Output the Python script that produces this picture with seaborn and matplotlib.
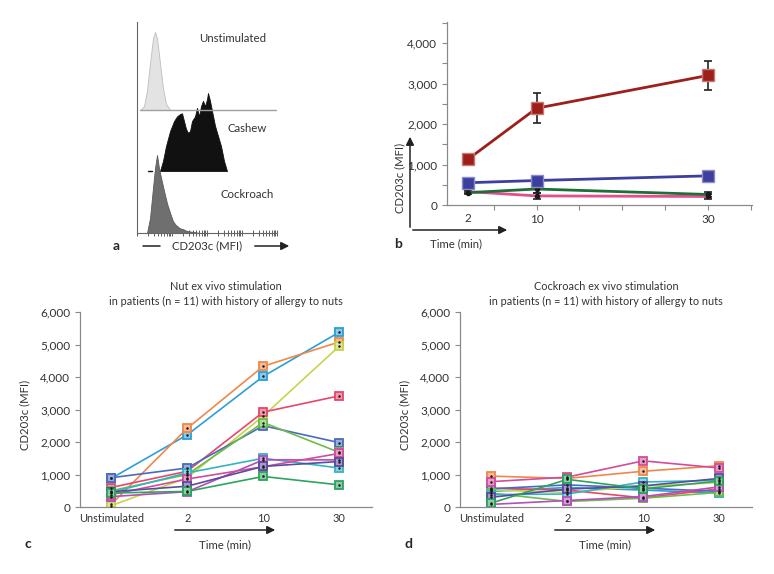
import numpy as np
import pandas as pd
import matplotlib
matplotlib.use("Agg")
import matplotlib.pyplot as plt
import matplotlib.colors as mcolors
from matplotlib.lines import Line2D
from matplotlib.ticker import FuncFormatter
import seaborn as sns

W, H = 774, 574

# ---- panel a: flow histograms (x = channel position, y = % of peak height)
unstim_x = [3, 7, 10, 13, 16, 18, 20, 23, 26, 29, 33]
unstim_y = [0, 5, 25, 60, 92, 100, 92, 60, 28, 8, 0]
cashew_x = [23, 26, 29, 33, 37, 40, 43, 45, 47, 49, 51, 53, 55, 58, 60, 62, 64, 66,
            68, 70, 71, 73, 75, 78, 81, 84, 87, 90]
cashew_y = [0, 13, 32, 51, 64, 70, 73, 74, 64, 54, 49, 51, 64, 70, 81, 70, 83, 90,
            83, 92, 100, 90, 77, 58, 45, 32, 13, 0]
cockroach_x = [10, 13, 16, 18, 20, 22, 24, 27, 30, 33, 36, 39, 43, 46, 49, 53, 58, 63]
cockroach_y = [0, 19, 58, 83, 100, 83, 71, 54, 38, 26, 15, 10, 6, 5, 3, 2, 1, 0]

# ---- panel b: mean CD203c over time
b_time = [2, 10, 30]
b_red = [1130, 2390, 3200]
b_red_err = [0, 370, 350]
b_blue = [550, 605, 720]
b_blue_err = [80, 70, 40]
b_green = [305, 395, 260]
b_green_err = [40, 110, 60]
b_pink = [330, 225, 210]
b_pink_err = [30, 80, 50]

# ---- panels c, d: individual patients
stages = ["Unstimulated", "2", "10", "30"]
patient_colors = ["#2b9fd6", "#f0874a", "#c9d24c", "#e6476a", "#4a6bbd", "#6dbb4c",
                  "#33b5c4", "#b24fb8", "#d34c9c", "#5a4aa0", "#2ea35e"]
nut_values = [
    [880, 2220, 4020, 5380],
    [80, 2420, 4330, 5080],
    [40, 900, 2800, 4950],
    [600, 1100, 2920, 3420],
    [900, 1200, 2500, 1980],
    [500, 1000, 2600, 1680],
    [450, 1050, 1500, 1200],
    [320, 470, 1450, 1450],
    [380, 860, 1240, 1650],
    [470, 640, 1250, 1400],
    [430, 480, 940, 680],
]
cockroach_values = [
    [480, 600, 520, 430],
    [950, 880, 1100, 1270],
    [520, 450, 640, 750],
    [580, 520, 280, 560],
    [560, 680, 580, 480],
    [430, 170, 270, 450],
    [380, 400, 770, 820],
    [80, 200, 320, 620],
    [780, 920, 1420, 1200],
    [300, 550, 650, 880],
    [120, 850, 560, 800],
]

sns.set_theme(style="ticks")
plt.rcParams["font.family"] = ["Lato", "DejaVu Sans"]
plt.rcParams["font.size"] = 8
TXT = "#333333"
AX = "#8a8a8a"
FS = 8.2

fig = plt.figure(figsize=(W / 100, H / 100), dpi=100)


def add_ax(left, top, right, bottom):
    return fig.add_axes([left / W, 1 - bottom / H, (right - left) / W, (bottom - top) / H])


def fxy(px, py):
    return (px / W, 1 - py / H)


def arrow(x0, y0, x1, y1):
    fig.add_artist(matplotlib.patches.FancyArrowPatch(
        fxy(x0, y0), fxy(x1, y1), transform=fig.transFigure,
        arrowstyle="-|>", mutation_scale=12, color="#222222", lw=1.1))


# ---------------- panel a
ax_a = add_ax(137, 22, 277, 233)
peak = 78
hists = [(unstim_x, unstim_y, 123, "#e3e3e3", "#bdbdbd"),
         (cashew_x, cashew_y, 62, "#111111", "#111111"),
         (cockroach_x, cockroach_y, 0, "#6f6f6f", "#5a5a5a")]
for xs, ys, base, face, edge in hists:
    top = base + np.array(ys) / 100 * peak
    ax_a.fill_between(xs, base, top, color=face, edgecolor=edge, lw=0.6)
ax_a.plot([3, 140], [123, 123], color="#a0a0a0", lw=1)
ax_a.plot([11, 15], [62, 62], color="#111111", lw=1)
ax_a.text(96, 195, "Unstimulated", ha="center", va="center", fontsize=FS, color=TXT)
ax_a.text(110, 105, "Cashew", ha="center", va="center", fontsize=FS, color=TXT)
ax_a.text(110, 39, "Cockroach", ha="center", va="center", fontsize=FS, color=TXT)
ax_a.set_xlim(0, 140)
ax_a.set_ylim(0, 211)
ticks = [d * 35 + np.log10(k) * 35 for d in range(4) for k in range(1, 10)] + [140]
ax_a.set_xticks(ticks)
ax_a.set_xticklabels([])
ax_a.set_yticks([])
ax_a.tick_params(axis="x", direction="inout", length=4, width=0.6, color="#444444")
sns.despine(ax=ax_a)
for s in ("left", "bottom"):
    ax_a.spines[s].set_color("#666666")
    ax_a.spines[s].set_linewidth(0.8)

fig.text(*fxy(116, 246), "a", fontsize=10, fontweight="bold", ha="center", va="center")
fig.add_artist(Line2D([143 / W, 160 / W], [1 - 246 / H] * 2, color="#222222", lw=1.1))
fig.text(*fxy(207, 246), "CD203c (MFI)", fontsize=FS, ha="center", va="center", color=TXT)
arrow(252, 246, 292, 246)

# ---------------- panel b
ax_b = add_ax(447, 22, 752, 205)
b_series = [(b_pink, b_pink_err, "#e24e8e", "o", 3, "k"),
            (b_green, b_green_err, "#1d6e37", "o", 3, "k"),
            (b_blue, b_blue_err, "#3c3f9f", "s", 9, None),
            (b_red, b_red_err, "#9e1f1a", "s", 8, None)]
for vals, errs, col, mk, ms, mfc in b_series:
    ax_b.errorbar(b_time, vals, yerr=errs, fmt="none", ecolor="#222222",
                  elinewidth=1.2, capsize=3, capthick=1.2, zorder=2)
    sns.lineplot(x=b_time, y=vals, color=col, lw=2, marker=mk, markersize=ms,
                 markerfacecolor=mfc if mfc else col,
                 markeredgecolor=mfc if mfc else mcolors.to_hex(
                     np.array(mcolors.to_rgb(col)) * 0.6 + 0.4),
                 markeredgewidth=1, ax=ax_b, zorder=3)
ax_b.set_xlim(-0.45, 35.13)
ax_b.set_ylim(0, 4520)
ax_b.set_xticks([5, 10, 15, 20, 25, 30, 35], ["", "10", "", "", "", "30", ""])
ax_b.set_xticks([2], ["2"], minor=True)
ax_b.tick_params(axis="x", which="minor", length=0, pad=6, labelsize=8.5, labelcolor=TXT)
ax_b.tick_params(axis="x", which="major", length=3.5, width=0.8, color=AX,
                 pad=3, labelsize=8.5, labelcolor=TXT)
ax_b.set_yticks([0, 1000, 2000, 3000, 4000], ["0", "1,000", "2,000", "3,000", "4,000"])
ax_b.set_yticks([500, 1500, 2500, 3500, 4500], minor=True)
ax_b.tick_params(axis="y", which="both", length=3.5, width=0.8, color=AX,
                 labelsize=8.5, labelcolor=TXT)
ax_b.set_xlabel("")
ax_b.set_ylabel("")
sns.despine(ax=ax_b)
for s in ("left", "bottom"):
    ax_b.spines[s].set_color(AX)
    ax_b.spines[s].set_linewidth(0.9)

arrow(410, 230, 410, 134)
arrow(410, 230, 510, 230)
fig.text(*fxy(400, 178), "CD203c (MFI)", rotation=90, fontsize=FS,
         ha="center", va="center", color=TXT)
fig.text(*fxy(456, 244), "Time (min)", fontsize=FS, ha="center", va="center", color=TXT)
fig.text(*fxy(398, 244), "b", fontsize=10, fontweight="bold", ha="center", va="center")


# ---------------- panels c, d
def lighten(c, amt=0.4):
    return tuple(np.array(mcolors.to_rgb(c)) * (1 - amt) + amt)


def patient_panel(left, values, title, letter):
    ax = add_ax(left, 312, left + 292, 507)
    df = pd.DataFrame([(f"P{i + 1}", st, v) for i, row in enumerate(values)
                       for st, v in zip(stages, row)], columns=["patient", "stage", "mfi"])
    sns.pointplot(data=df, x="stage", y="mfi", hue="patient", order=stages,
                  palette=patient_colors, markers="s", errorbar=None, dodge=False,
                  markersize=5.5, linewidth=1.2, legend=False, ax=ax)
    for ln in ax.lines:
        c = ln.get_color()
        ln.set_markerfacecolor(lighten(c, 0.45))
        ln.set_markeredgecolor(c)
        ln.set_markeredgewidth(1.3)
    sns.stripplot(data=df, x="stage", y="mfi", order=stages, color="k", size=1.8,
                  jitter=False, ax=ax, zorder=6)
    ax.set_xlim(-0.41, 3.43)
    ax.set_ylim(0, 6000)
    ax.set_yticks(range(0, 7000, 1000))
    ax.yaxis.set_major_formatter(FuncFormatter(lambda v, p: f"{v:,.0f}"))
    ax.tick_params(axis="x", length=0, pad=4, labelsize=7.9, labelcolor=TXT)
    ax.tick_params(axis="y", length=3.5, width=0.8, color=AX, labelsize=8.5, labelcolor=TXT)
    ax.set_xlabel("")
    ax.set_ylabel("CD203c (MFI)", fontsize=FS, color=TXT)
    ax.yaxis.set_label_coords(-0.17, 0.47)
    ax.set_title(title, fontsize=7.8, color=TXT, pad=5, linespacing=1.4)
    sns.despine(ax=ax)
    for s in ("left", "bottom"):
        ax.spines[s].set_color(AX)
        ax.spines[s].set_linewidth(0.9)
    arrow(left + 92, 530, left + 198, 530)
    fig.text(*fxy(left + 145, 545), "Time (min)", fontsize=FS, ha="center",
             va="center", color=TXT)
    fig.text(*fxy(left - 52, 544), letter, fontsize=10, fontweight="bold",
             ha="center", va="center")


patient_panel(80, nut_values,
              "Nut ex vivo stimulation\nin patients (n = 11) with history of allergy to nuts", "c")
patient_panel(460, cockroach_values,
              "Cockroach ex vivo stimulation\nin patients (n = 11) with history of allergy to nuts", "d")

fig.savefig("out.png", dpi=100)
